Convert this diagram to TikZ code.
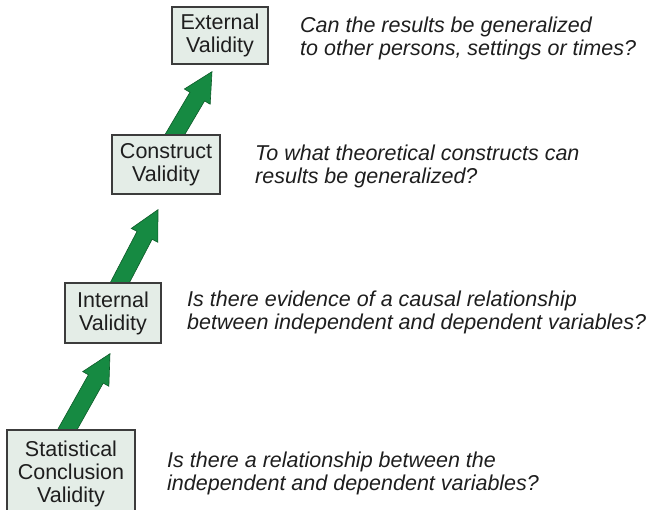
\documentclass[tikz,border=0pt]{standalone}
\usepackage{fontspec}
\setmainfont{Liberation Sans}
\usetikzlibrary{calc,backgrounds}

\definecolor{boxfill}{RGB}{228,237,231}
\definecolor{boxline}{RGB}{60,60,60}
\definecolor{arrowfill}{RGB}{22,138,66}
\definecolor{arrowline}{RGB}{12,90,40}
\definecolor{inkgray}{RGB}{30,30,30}

\tikzset{
  validity/.style={draw=boxline, line width=1.3pt, fill=boxfill, align=center,
    font=\fontsize{21.5}{23}\selectfont, text=inkgray, inner sep=0pt},
  question/.style={anchor=base west, align=left, inner sep=0pt,
    font=\fontsize{21.5}{23}\selectfont\itshape, text=inkgray},
  blockarrow/.style={fill=arrowfill, draw=arrowline, line width=0.6pt, line join=miter},
}

% thick block arrow from #1 (base, tucked under a box) to #2 (tip)
\newcommand\upArrow[2]{%
  \coordinate (st) at ($(#1)!-12pt!(#2)$);
  \coordinate (nk) at ($(#2)!29pt!(#1)$);
  \filldraw[blockarrow]
    ($(st)!8.5pt!90:(#2)$) -- ($(nk)!8.5pt!90:(#2)$) -- ($(nk)!15pt!90:(#2)$)
    -- (#2)
    -- ($(nk)!15pt!-90:(#2)$) -- ($(nk)!8.5pt!-90:(#2)$) -- ($(st)!8.5pt!-90:(#2)$)
    -- cycle;}

\begin{document}
\begin{tikzpicture}[x=1pt, y=-1pt]
  \useasboundingbox (0,0) rectangle (650,509);

  % validity boxes
  \node[validity, minimum width=96pt,  minimum height=57pt] (ext)  at (220,35.5)  {External\\Validity};
  \node[validity, minimum width=108pt, minimum height=59pt] (con)  at (166,164.5) {Construct\\Validity};
  \node[validity, minimum width=96pt,  minimum height=60pt] (intv) at (113,313)   {Internal\\Validity};
  \node[validity, minimum width=128pt, minimum height=88pt] (stat) at (71,474)    {Statistical\\Conclusion\\Validity};

  % questions (anchored at the baseline of their second line)
  \node[question] (q1) at (300,55)  {Can the results be generalized\\to other persons, settings or times?};
  \node[question] (q2) at (255,183) {To what theoretical constructs can\\results be generalized?};
  \node[question] (q3) at (187,329) {Is there evidence of a causal relationship\\between independent and dependent variables?};
  \node[question] (q4) at (167,490) {Is there a relationship between the\\independent and dependent variables?};

  % connecting arrows, behind the boxes
  \begin{scope}[on background layer]
    \coordinate (a1b) at ($(stat.north)+(-3.5,0)$);
    \coordinate (a1t) at ($(intv.south)+(-3,10)$);
    \coordinate (a2b) at ($(intv.north)+(7,0)$);
    \coordinate (a2t) at ($(con.south)+(-8,15)$);
    \coordinate (a3b) at ($(con.north)+(9,0)$);
    \coordinate (a3t) at ($(ext.south)+(-8,7)$);
    \upArrow{a1b}{a1t}
    \upArrow{a2b}{a2t}
    \upArrow{a3b}{a3t}
  \end{scope}
\end{tikzpicture}
\end{document}
